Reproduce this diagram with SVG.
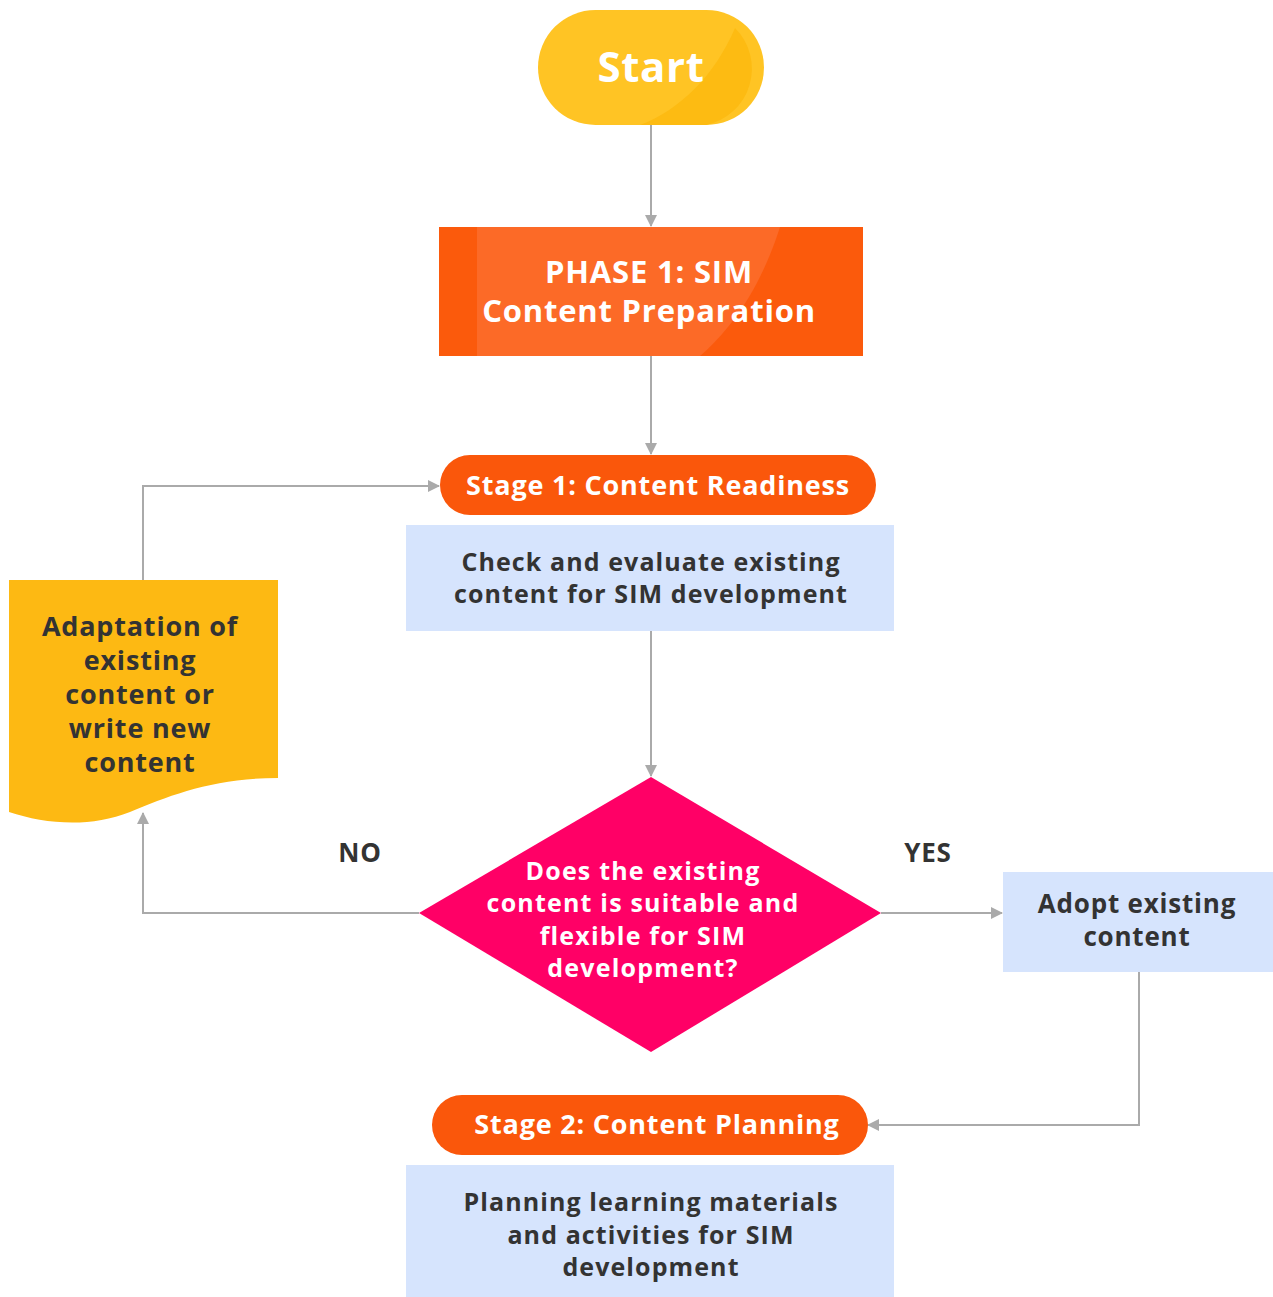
<svg xmlns="http://www.w3.org/2000/svg" width="1273" height="1297" viewBox="0 0 1273 1297">
<defs>
<style>
.t{font-family:"Open Sans","Noto Sans","Liberation Sans",sans-serif;font-weight:bold;text-anchor:middle;letter-spacing:0.8px}
.w{fill:#ffffff}
.d{fill:#333333}
.s{letter-spacing:1.1px}
.ln{fill:none;stroke:#aaaaaa;stroke-width:2}
.blue{fill:#d6e4fd}
.orange{fill:#fa570b}
</style>
<marker id="ah" viewBox="0 0 12 12" refX="11" refY="6" markerWidth="12" markerHeight="12" markerUnits="userSpaceOnUse" orient="auto">
<path d="M0,0 L12,6 L0,12 Z" fill="#aaaaaa"/>
</marker>
</defs>
<rect width="1273" height="1297" fill="#ffffff"/>
<g id="connectors">
<path class="ln" d="M651,125 V226" marker-end="url(#ah)"/>
<path class="ln" d="M651,356 V454" marker-end="url(#ah)"/>
<path class="ln" d="M651,631 V776" marker-end="url(#ah)"/>
<path class="ln" d="M419,913 H143 V813" marker-end="url(#ah)"/>
<path class="ln" d="M143,580 V486 H439" marker-end="url(#ah)"/>
<path class="ln" d="M881,913 H1002" marker-end="url(#ah)"/>
<path class="ln" d="M1139,972 V1125 H868" marker-end="url(#ah)"/>
<text class="t d" x="360" y="862" font-size="26">NO</text>
<text class="t d" x="928" y="862" font-size="26">YES</text>
</g>
<g id="start">
<rect x="538" y="10" width="226" height="115" rx="57.5" fill="#ffc424"/>
<path d="M735,28 A57.5,57.5 0 0 1 706,125 H640 C680,110 715,75 735,28 Z" fill="#fdbb12"/>
<text class="t w" x="651" y="82" font-size="42" style="letter-spacing:0.6px">Start</text>
</g>
<g id="phase1">
<rect x="439" y="227" width="424" height="129" fill="#fb5a0c"/>
<path d="M477,227 H780 C760,290 730,330 700,356 H477 Z" fill="#fc6a27"/>
<text class="t w" x="649" y="283" font-size="31">PHASE 1: SIM</text>
<text class="t w" x="649" y="322" font-size="31">Content Preparation</text>
</g>
<g id="stage1">
<rect class="orange" x="440" y="455" width="436" height="60" rx="30"/>
<text class="t w" x="658" y="495" font-size="27">Stage 1: Content Readiness</text>
</g>
<g id="check">
<rect class="blue" x="406" y="525" width="488" height="106"/>
<text class="t d s" x="651" y="571" font-size="25">Check and evaluate existing</text>
<text class="t d s" x="651" y="603" font-size="25">content for SIM development</text>
</g>
<g id="decision">
<path d="M651,777 L881,913 L651,1052 L419,913 Z" fill="#ff0066"/>
<text class="t w" x="643" y="880" font-size="25" style="letter-spacing:1.2px">Does the existing</text>
<text class="t w" x="643" y="912" font-size="25" style="letter-spacing:1.2px">content is suitable and</text>
<text class="t w" x="643" y="945" font-size="25" style="letter-spacing:1.2px">flexible for SIM</text>
<text class="t w" x="643" y="977" font-size="25" style="letter-spacing:1.2px">development?</text>
</g>
<g id="adaptation">
<path d="M9,580 H278 V778 C215,778 170,795 130,812 C90,828 45,824 9,812 Z" fill="#fdb913"/>
<text class="t d" x="140" y="636" font-size="27">Adaptation of</text>
<text class="t d" x="140" y="670" font-size="27">existing</text>
<text class="t d" x="140" y="704" font-size="27">content or</text>
<text class="t d" x="140" y="738" font-size="27">write new</text>
<text class="t d" x="140" y="772" font-size="27">content</text>
</g>
<g id="adopt">
<rect class="blue" x="1003" y="872" width="270" height="100"/>
<text class="t d" x="1137" y="913" font-size="26">Adopt existing</text>
<text class="t d" x="1137" y="946" font-size="26">content</text>
</g>
<g id="stage2">
<rect class="orange" x="432" y="1095" width="436" height="60" rx="30"/>
<text class="t w" x="657" y="1134" font-size="27">Stage 2: Content Planning</text>
</g>
<g id="planning">
<rect class="blue" x="406" y="1165" width="488" height="132"/>
<text class="t d s" x="651" y="1211" font-size="25">Planning learning materials</text>
<text class="t d s" x="651" y="1244" font-size="25">and activities for SIM</text>
<text class="t d s" x="651" y="1276" font-size="25">development</text>
</g>
</svg>
